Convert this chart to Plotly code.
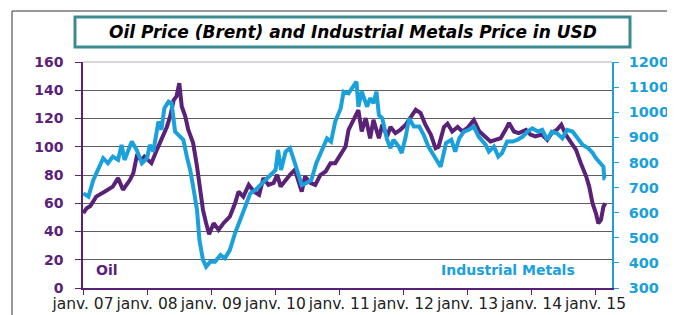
import datetime as dt
import plotly.graph_objects as go

# ---- data (x = months since Jan 2007) ----
oil_month = [0.1, 0.75, 1.4, 2.6, 4.2, 5.7, 6.7, 7.6, 8.9, 9.5, 10.1, 11.0, 11.6, 12.9, 13.9,
             14.8, 15.8, 16.4, 17.0, 17.6, 18.1, 18.6, 19.2, 19.8, 20.7, 21.4, 22.0, 22.5, 23.1,
             23.7, 24.5, 25.4, 26.4, 27.6, 28.6, 29.2, 30.1, 31.1, 32.0, 33.0, 33.9, 34.8, 35.8,
             36.4, 37.0, 38.0, 38.9, 39.8, 40.4, 41.0, 41.7, 42.7, 43.6, 44.5, 45.5, 46.4, 47.3,
             48.3, 49.2, 49.8, 50.8, 51.7, 52.3, 53.0, 53.9, 54.5, 55.5, 56.1, 57.0, 57.7, 58.6,
             59.5, 60.5, 61.4, 62.4, 63.3, 64.2, 65.2, 66.1, 66.7, 67.7, 68.3, 69.2, 70.2, 71.1,
             72.0, 73.2, 74.3, 75.5, 76.4, 77.3, 78.3, 79.2, 79.9, 80.8, 81.7, 83.0, 83.9, 84.8,
             86.0, 87.0, 87.9, 88.9, 89.7, 90.5, 91.4, 92.4, 93.3, 94.3, 94.9, 95.5, 96.1, 96.6,
             97.0, 97.5, 97.9]
oil_price = [53, 56.5, 58, 64.7, 68.3, 71.8, 77.8, 69.5, 76.6, 81.3, 93, 90.8, 93, 88.4, 97.8,
             105, 114, 121.5, 133, 135.6, 145, 128.5, 121.5, 112, 102.6, 86, 69.5, 55.3, 45.9,
             38, 45.9, 41.1, 45.9, 50.5, 60, 68.3, 64.7, 73, 68.3, 66, 77.8, 73, 74.4,
             80.1, 71.8, 76.6, 80.1, 83.7, 76.6, 68.3, 78.9, 74.4, 73, 80, 82.5, 88.4, 88.4,
             95, 100.2, 112, 119, 126, 110.8, 120.3, 106, 119, 106, 115.6, 107.3, 114, 109.7,
             112, 115.6, 120.3, 126.2, 123.8, 115.6, 108.6, 99, 100, 114, 116.4, 110.8, 114, 110.8,
             113.3, 119, 111, 107.3, 103.7, 104.9, 106, 112, 116.8, 110.8, 109.7, 112, 108.6, 107.3,
             108.6, 104.9, 109.7, 112, 115.6, 108.6, 103.7, 97.8, 88.4, 78.9, 71.8, 60, 53, 45.9,
             48.2, 57.6, 60]

metal_month = [0.1, 1.0, 2.0, 2.9, 3.9, 4.8, 5.7, 6.7, 7.3, 7.9, 9.2, 10.1, 11.1, 12.0, 12.6,
               13.2, 14.2, 14.8, 15.3, 16.1, 16.7, 17.3, 18.3, 18.9, 19.5, 20.1, 20.7, 21.4, 21.9,
               22.5, 23.1, 23.9, 24.8, 25.8, 26.7, 27.6, 28.6, 29.5, 30.5, 31.4, 32.3, 33.3, 34.2,
               35.2, 36.1, 36.6, 37.1, 38.0, 38.9, 39.8, 40.4, 41.0, 41.9, 42.9, 43.8, 44.8, 45.8,
               46.5, 47.3, 48.3, 48.9, 49.8, 50.5, 51.3, 51.7, 52.3, 53.3, 53.9, 54.5, 55.0, 55.5,
               56.1, 57.0, 57.7, 58.2, 59.2, 59.8, 60.5, 61.1, 62.0, 63.0, 63.9, 64.8, 65.8, 66.4,
               67.0, 68.0, 69.0, 69.8, 70.5, 71.4, 72.3, 73.2, 74.2, 75.5, 76.1, 77.0, 77.9, 78.6,
               79.5, 80.5, 81.4, 82.4, 83.3, 84.2, 85.2, 86.1, 87.0, 87.9, 88.9, 89.9, 90.8, 91.8,
               92.7, 93.7, 94.7, 95.6, 96.1, 97.0, 97.5, 97.7, 97.9]
metal_price = [677, 664, 730, 770, 817, 797, 823, 810, 870, 810, 883, 850, 797, 817, 870,
               843, 963, 930, 1016, 1042, 1036, 923, 903, 890, 823, 770, 704, 611, 491,
               412, 385, 405, 405, 431, 418, 451, 518, 571, 624, 677, 690, 710, 730,
               750, 770, 850, 770, 843, 857, 797, 757, 710, 717, 730, 797, 850, 896,
               883, 963, 1015, 1082, 1075, 1096, 1122, 1022, 1082, 1022, 1056, 1036, 1082, 989,
               976, 890, 857, 890, 863, 837, 903, 976, 943, 943, 910, 863, 830, 810,
               783, 877, 890, 843, 896, 923, 930, 943, 903, 870, 843, 863, 823, 837,
               883, 883, 890, 903, 923, 936, 923, 930, 890, 923, 916, 896, 930, 923,
               896, 870, 857, 837, 817, 797, 783, 737, 737]

tick_dates = ["2007-01-01", "2008-01-01", "2009-01-01", "2010-01-01", "2011-01-01",
              "2012-01-01", "2013-01-01", "2014-01-01", "2015-01-01"]
tick_labels = ["janv. 07", "janv. 08", "janv. 09", "janv. 10", "janv. 11",
               "janv. 12", "janv. 13", "janv. 14", "janv. 15"]
oil_ticks = [0, 20, 40, 60, 80, 100, 120, 140, 160]
metal_ticks = [300, 400, 500, 600, 700, 800, 900, 1000, 1100, 1200]

PURPLE = "#5A2178"
CYAN = "#1AA0DA"


def to_date(m):
    y = 2007 + int(m // 12)
    mo = int(m % 12) + 1
    d = 1 + int((m % 1) * 28)
    return dt.date(y, mo, d).isoformat()


# page has an 8px body margin -> figure drawn at (8, 8) in the screenshot
OFF = 8
W, H = 675 - OFF, 315 - OFF
# plot area in screenshot pixels
SL, SR, ST, SB = 83, 612, 62, 288


def px(x):
    return (x - SL) / (SR - SL)


def py(y):
    return (SB - y) / (SB - ST)


fig = go.Figure()
fig.add_trace(go.Scatter(x=[to_date(m) for m in metal_month], y=metal_price, yaxis="y2",
                         mode="lines", line=dict(color=CYAN, width=4), name="Industrial Metals"))
fig.add_trace(go.Scatter(x=[to_date(m) for m in oil_month], y=oil_price, yaxis="y",
                         mode="lines", line=dict(color=PURPLE, width=4), name="Oil"))

fig.update_layout(
    width=W, height=H,
    margin=dict(l=SL - OFF, r=W - (SR - OFF), t=ST - OFF, b=H - (SB - OFF), autoexpand=False),
    paper_bgcolor="white", plot_bgcolor="white",
    showlegend=False,
    font=dict(family="DejaVu Sans"),
    xaxis=dict(type="date", range=["2007-01-01", "2015-04-05"],
               tickvals=tick_dates, ticktext=tick_labels, tickangle=0, automargin=False,
               tickfont=dict(size=15.5, color="#222222"),
               showgrid=False, showline=True, linecolor=PURPLE, linewidth=1.5,
               ticks="outside", ticklen=5, tickcolor=PURPLE, zeroline=False,
               ticklabelstandoff=-4),
    yaxis=dict(range=[0, 160], tickvals=oil_ticks, automargin=False,
               tickfont=dict(size=14, color=PURPLE, weight="bold"),
               showgrid=True, gridcolor="#5e5e5e", gridwidth=1,
               showline=True, linecolor=PURPLE, linewidth=1.5,
               ticks="outside", ticklen=6, tickcolor=PURPLE, zeroline=False,
               ticklabelstandoff=9),
    yaxis2=dict(range=[300, 1200], tickvals=metal_ticks, overlaying="y", side="right",
                automargin=False,
                tickfont=dict(size=14.5, color=CYAN, weight="bold"),
                showgrid=False, showline=True, linecolor=CYAN, linewidth=1.5,
                ticks="outside", ticklen=5, tickcolor=CYAN, zeroline=False,
                ticklabelstandoff=7),
)

shapes = [
    # top border of plot area
    dict(type="line", xref="paper", yref="paper", x0=0, x1=1, y0=1, y1=1,
         line=dict(color="#b0b0b0", width=1)),
    # outer frame
    dict(type="line", xref="paper", yref="paper", x0=px(12), x1=px(690), y0=py(11), y1=py(11),
         line=dict(color="#333333", width=1)),
    dict(type="line", xref="paper", yref="paper", x0=px(12), x1=px(12), y0=py(11), y1=py(330),
         line=dict(color="#333333", width=1)),
    # title box
    dict(type="rect", xref="paper", yref="paper", x0=px(75), x1=px(630), y0=py(47), y1=py(17),
         line=dict(color="#3D8B92", width=3), fillcolor="white"),
]
fig.update_layout(shapes=shapes)

fig.add_annotation(x=px(353), y=py(32), xref="paper", yref="paper", showarrow=False,
                   xanchor="center", yanchor="middle",
                   text="Oil Price (Brent) and Industrial Metals Price in USD",
                   font=dict(size=17, color="black", weight="bold", style="italic"))
fig.add_annotation(x=px(94), y=py(270), xref="paper", yref="paper", showarrow=False,
                   xanchor="left", yanchor="middle", text="Oil",
                   font=dict(size=14, color=PURPLE, weight="bold"))
fig.add_annotation(x=px(577), y=py(270), xref="paper", yref="paper", showarrow=False,
                   xanchor="right", yanchor="middle", text="Industrial Metals",
                   font=dict(size=14, color=CYAN, weight="bold"))

fig.write_html("out.html")
